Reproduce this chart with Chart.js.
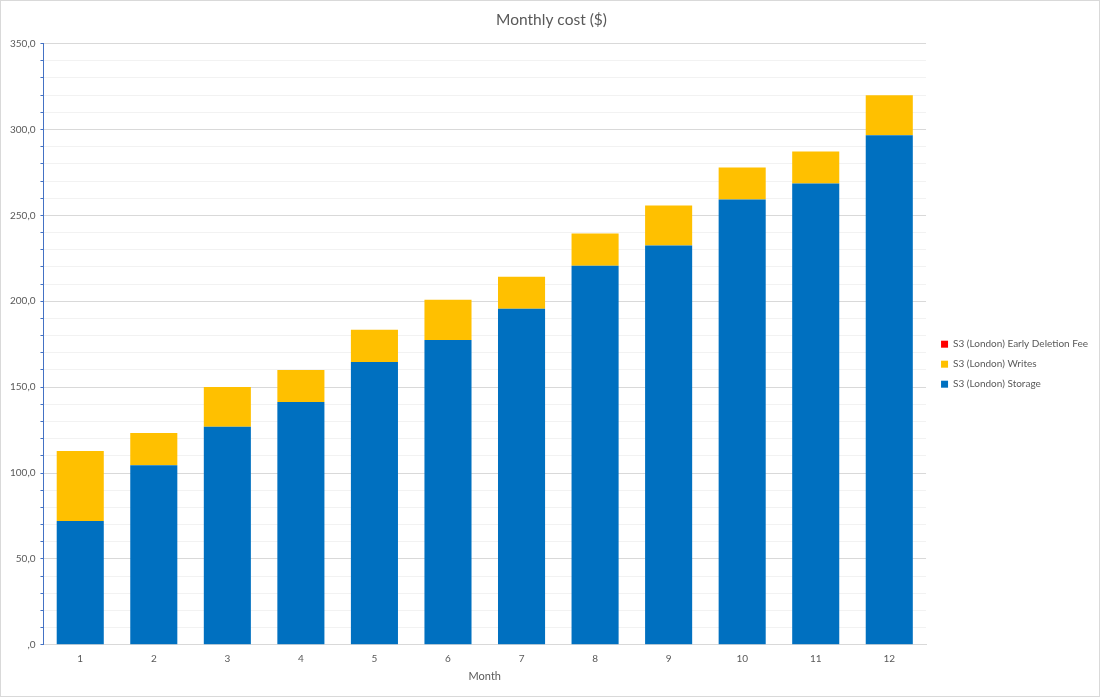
<!DOCTYPE html>
<html>
<head>
<meta charset="utf-8">
<script src="https://cdn.jsdelivr.net/npm/chart.js@4"></script>
<style>
  body { margin: 0; background: #fff; }
  #wrap { width: 1100px; height: 697px; box-sizing: border-box; border: 1px solid #d9d9d9; }
</style>
</head>
<body>
<div id="wrap"><canvas id="myChart"></canvas></div>
<script>
//App data
const months = ["1", "2", "3", "4", "5", "6", "7", "8", "9", "10", "11", "12"];
const storage = [72.0, 104.6, 126.9, 141.4, 164.7, 177.5, 195.6, 220.7, 232.4, 259.2, 268.6, 296.6];
const writes = [40.8, 18.7, 23.2, 18.6, 18.7, 23.4, 18.7, 18.7, 23.3, 18.7, 18.6, 23.3];
const earlyDeletion = [0, 0, 0, 0, 0, 0, 0, 0, 0, 0, 0, 0];
const yMax = 350;

const textColor = "#595959";
const font = "Lato, 'Open Sans', sans-serif";

//formats 350 as "350,0" and 0 as ",0"
const fmt = (v) => (v === 0 ? ",0" : v.toFixed(1).replace(".", ","));

//Initiating Chart
var ctx = document.getElementById("myChart").getContext("2d");
var chart = new Chart(ctx, {
  type: "bar",
  data: {
    labels: months,
    datasets: [
      {
        label: "S3 (London) Storage",
        backgroundColor: "#0070c0",
        data: storage,
      },
      {
        label: "S3 (London) Writes",
        backgroundColor: "#ffc000",
        data: writes,
      },
      {
        label: "S3 (London) Early Deletion Fee",
        backgroundColor: "#ff0000",
        data: earlyDeletion,
      },
    ],
  },
  options: {
    responsive: true,
    maintainAspectRatio: false,
    animation: false,
    layout: { padding: { left: 4, right: 1, top: 8, bottom: 9 } },
    datasets: {
      bar: { barPercentage: 0.64, categoryPercentage: 1 },
    },
    plugins: {
      tooltip: { enabled: false },
      title: {
        display: true,
        text: "Monthly cost ($)",
        color: textColor,
        font: { family: font, size: 15.5, weight: "normal" },
        padding: { top: 2, bottom: 14 },
      },
      legend: {
        position: "right",
        reverse: true,
        // blank legend title only pushes the items down a bit
        title: { display: true, text: " ", font: { size: 12 }, padding: 9 },
        labels: {
          boxWidth: 7,
          boxHeight: 7,
          padding: 10,
          color: textColor,
          font: { family: font, size: 10 },
        },
      },
    },
    scales: {
      x: {
        stacked: true,
        grid: { display: false },
        border: { color: "#d9d9d9" },
        ticks: { color: textColor, font: { family: font, size: 10 }, padding: 0 },
        title: {
          display: true,
          text: "Month",
          color: textColor,
          font: { family: font, size: 11 },
          padding: { top: 5 },
        },
      },
      y: {
        stacked: true,
        min: 0,
        max: yMax,
        ticks: {
          stepSize: 10,
          autoSkip: false,
          color: textColor,
          font: { family: font, size: 10 },
          padding: 5,
          callback: (v) => (v % 50 === 0 ? fmt(v) : ""),
        },
        grid: {
          color: (c) => (c.tick && c.tick.value % 50 === 0 ? "#d9d9d9" : "#f2f2f2"),
          tickColor: "#4472c4",
          tickLength: 3,
        },
        border: { color: "#4472c4" },
      },
      // empty axis, just keeps a gap between the plot and the legend
      gap: {
        position: "right",
        display: true,
        grid: { display: false },
        border: { display: false },
        ticks: { display: false },
        afterFit: (s) => {
          s.width = 5;
        },
      },
    },
  },
});
</script>
</body>
</html>
